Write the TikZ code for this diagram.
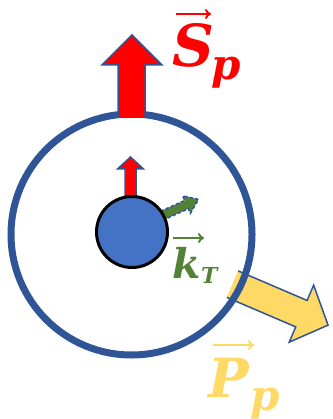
\documentclass[tikz,border=0pt]{standalone}
\usepackage{fontspec}
\newfontfamily\lblfont{DejaVu Serif}
\usetikzlibrary{arrows.meta}
\definecolor{ringblue}{HTML}{2F5597}
\definecolor{ballblue}{HTML}{4472C4}
\definecolor{kgreen}{HTML}{548235}
\definecolor{pyellow}{HTML}{FFD966}
\definecolor{sred}{HTML}{FF0000}
\tikzset{
  blockarrow/.style={draw=ringblue, line width=1.5pt, line join=miter},
  lbl/.style={inner sep=0pt, anchor=base west, font=\lblfont\bfseries\itshape},
  vecarrow/.style={line width=2pt, -{To[length=6pt,width=10pt]}}
}
\begin{document}
\begin{tikzpicture}[x=1pt,y=-1pt]
\useasboundingbox (0,0) rectangle (332,419);
% yellow momentum arrow
\begin{scope}[shift={(238,286.5)}, rotate=-23.2]
  \fill[pyellow] (-6,-14.4) -- (69,-14.4) -- (69,-31) -- (98,0) -- (69,31) -- (69,14.4) -- (-6,14.4) -- cycle;
  \draw[blockarrow] (-6,-14.4) -- (69,-14.4) -- (69,-31) -- (98,0) -- (69,31) -- (69,14.4) -- (-6,14.4);
\end{scope}
% big ring
\draw[ringblue, line width=7pt] (131.5,234.5) circle[radius=120.5];
% big red spin arrow
\fill[sred] (118,118) -- (118,65) -- (102,65) -- (132,35) -- (162,65) -- (145,65) -- (145,118) -- cycle;
\draw[blockarrow] (118,118) -- (118,65) -- (102,65) -- (132,35) -- (162,65) -- (145,65) -- (145,118);
% small red arrow
\draw[blockarrow, fill=sred] (125,200) -- (125,169) -- (117.5,169) -- (130.5,157) -- (143.5,169) -- (136,169) -- (136,200) -- cycle;
% green kT arrow
\begin{scope}[shift={(161,216)}, rotate=24]
  \draw[blockarrow, fill=kgreen, dash pattern=on 3.5pt off 2pt] (-4,-4.5) -- (28,-4.5) -- (28,-9.5) -- (41,0) -- (28,9.5) -- (28,4.5) -- (-4,4.5) -- cycle;
\end{scope}
% ball
\draw[black, line width=3pt, fill=ballblue] (132,232) circle[radius=35.5];
% labels
\node[lbl, text=sred, font=\lblfont\bfseries\itshape\fontsize{58}{58}\selectfont] (S) at (172,67) {S};
\node[lbl, text=sred, font=\lblfont\bfseries\itshape\fontsize{42}{42}\selectfont] (Sp) at (211,80) {p};
\draw[vecarrow, sred] (176,14) -- (211,14);
\node[lbl, text=kgreen, font=\lblfont\bfseries\itshape\fontsize{41}{41}\selectfont] (k) at (172,278) {k};
\node[lbl, text=kgreen, font=\lblfont\bfseries\itshape\fontsize{22}{22}\selectfont] (T) at (201,283) {T};
\draw[vecarrow, kgreen] (173,238) -- (204,238);
\node[lbl, text=pyellow, font=\lblfont\bfseries\itshape\fontsize{54}{54}\selectfont] (P) at (208,397) {P};
\node[lbl, text=pyellow, font=\lblfont\bfseries\itshape\fontsize{42}{42}\selectfont] (Pp) at (250,410) {p};
\draw[vecarrow, pyellow] (213,345) -- (254,345);
\end{tikzpicture}
\end{document}
